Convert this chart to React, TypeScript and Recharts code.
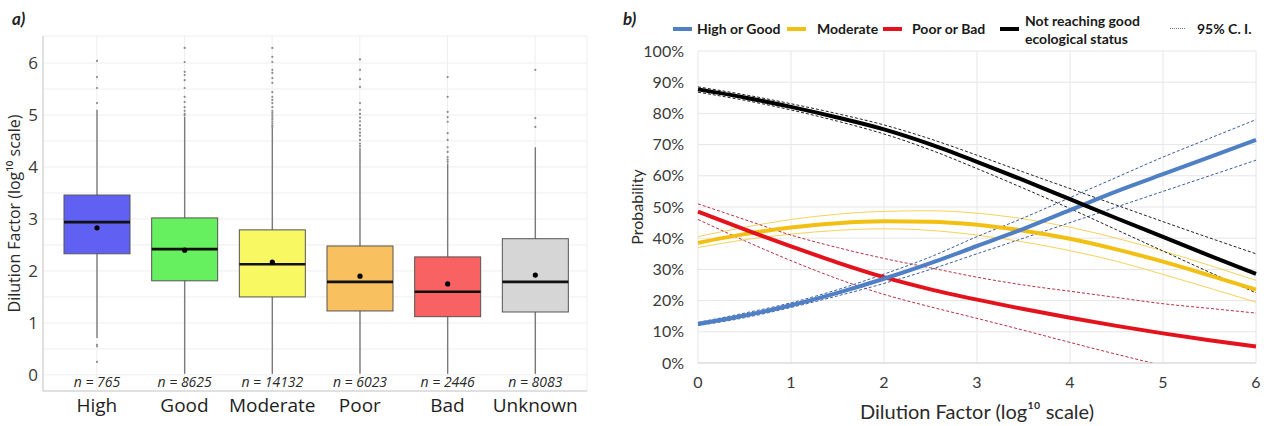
import React from 'react';
import {
  ComposedChart,
  Bar,
  XAxis,
  YAxis,
  CartesianGrid,
  LineChart,
  Line,
  Legend,
} from 'recharts';

// ---------- Panel a) box plot data ----------
const categories = ['High', 'Good', 'Moderate', 'Poor', 'Bad', 'Unknown'];
const counts = [765, 8625, 14132, 6023, 2446, 8083];
const whiskerLow = [0.71, 0.02, 0.02, 0.02, 0.02, 0.02];
const q1 = [2.33, 1.81, 1.5, 1.23, 1.12, 1.21];
const medians = [2.94, 2.42, 2.13, 1.79, 1.6, 1.79];
const q3 = [3.46, 3.02, 2.79, 2.48, 2.27, 2.62];
const whiskerHigh = [5.1, 4.96, 4.75, 4.37, 4.07, 4.38];
const means = [2.83, 2.4, 2.17, 1.9, 1.75, 1.92];
const outliers = [
  [6.04, 5.73, 5.52, 5.23, 0.58, 0.55, 0.25],
  [6.29, 6.02, 5.83, 5.77, 5.67, 5.52, 5.35, 5.25, 5.15, 5.08, 5.02, 4.99],
  [6.29, 6.12, 6.02, 5.87, 5.81, 5.71, 5.62, 5.44, 5.35, 5.29, 5.23, 5.15, 5.08, 5.04, 5.0, 4.96, 4.92, 4.88, 4.84, 4.8, 4.77],
  [6.07, 5.87, 5.69, 5.54, 5.23, 5.1, 5.02, 4.95, 4.88, 4.8, 4.73, 4.66, 4.6, 4.52, 4.45, 4.4],
  [5.73, 5.35, 5.06, 4.96, 4.87, 4.65, 4.52, 4.38, 4.29, 4.19, 4.14, 4.1],
  [5.87, 4.94, 4.77],
];
const boxColors = ['#6060f2', '#66ef5f', '#f8f862', '#f9c060', '#f96262', '#d6d6d6'];
const leftYGridTicks = [0, 0.5, 1, 1.5, 2, 2.5, 3, 3.5, 4, 4.5, 5, 5.5, 6];

const boxData = categories.map((cat, i) => ({
  cat,
  n: counts[i],
  wLow: whiskerLow[i],
  q1: q1[i],
  med: medians[i],
  q3: q3[i],
  wHigh: whiskerHigh[i],
  mean: means[i],
  out: outliers[i],
  color: boxColors[i],
}));

// ---------- Panel b) probability curves ----------
const xs = [0, 0.5, 1, 1.5, 2, 2.5, 3, 3.5, 4, 4.5, 5, 5.5, 6];
const highGood = [12.5, 15.2, 18.5, 22.5, 27, 32, 37.5, 43, 49, 55, 60.5, 66, 71.5];
const highGoodHi = [13, 16, 19.3, 23.5, 28.5, 34, 40.5, 46.5, 53, 59.5, 66, 72, 78];
const highGoodLo = [12, 14.5, 17.8, 21.5, 25.5, 30, 35, 40, 45, 50, 55, 60, 65];
const moderate = [38.5, 41.3, 43.4, 44.8, 45.4, 45.3, 44.3, 42.4, 39.8, 36.4, 32.5, 28.1, 23.5];
const moderateHi = [40.5, 43.5, 46, 47.7, 48.6, 48.8, 48.0, 46.2, 43.5, 40.0, 35.9, 31.3, 26.5];
const moderateLo = [37, 39.5, 41.3, 42.5, 43, 42.5, 41.0, 38.8, 36.0, 32.6, 28.4, 24, 19.5];
const poorBad = [48.5, 42.8, 37.4, 32.2, 27.5, 23.6, 20.3, 17.3, 14.5, 11.9, 9.5, 7.3, 5.3];
const poorBadHi = [51, 46, 41, 37, 33.5, 30.5, 27.5, 25, 23, 21, 19, 17.5, 16];
const poorBadLo = [46, 39.2, 32.8, 27, 22, 18, 14.3, 10.5, 6.6, 2.8, -0.8, -4, -7];
const notGood = [87.7, 85.1, 82.1, 78.7, 74.9, 70.1, 64.5, 58.6, 52.5, 46.4, 40.4, 34.4, 28.6];
const notGoodHi = [88.5, 86, 83.1, 79.9, 76.3, 71.8, 66.6, 61.2, 55.9, 50.6, 45.3, 40.1, 35];
const notGoodLo = [86.8, 84.2, 81.1, 77.5, 73.4, 68.3, 62.3, 56, 49.5, 42.7, 35.9, 29.1, 22.5];
const rightXTicks = [0, 1, 2, 3, 4, 5, 6];
const rightYTicks = [0, 10, 20, 30, 40, 50, 60, 70, 80, 90, 100];

const curveData = xs.map((x, i) => ({
  x,
  hg: highGood[i],
  hgHi: highGoodHi[i],
  hgLo: highGoodLo[i],
  mod: moderate[i],
  modHi: moderateHi[i],
  modLo: moderateLo[i],
  pb: poorBad[i],
  pbHi: poorBadHi[i],
  pbLo: poorBadLo[i],
  ng: notGood[i],
  ngHi: notGoodHi[i],
  ngLo: notGoodLo[i],
}));

const COL_BLUE = '#4f7fc4';
const COL_YELLOW = '#f2c012';
const COL_RED = '#e3131d';
const COL_BLACK = '#000000';

const legendItems = [
  { label: ['High or Good'], color: COL_BLUE },
  { label: ['Moderate'], color: COL_YELLOW },
  { label: ['Poor or Bad'], color: COL_RED },
  { label: ['Not reaching good', 'ecological status'], color: COL_BLACK },
];

const BoxShape = (props: any) => {
  const { x, y, width, height, payload } = props;
  if (!payload) return null;
  const top = Math.min(y, y + height);
  const bottom = Math.max(y, y + height);
  const lo = payload.wLow;
  const hi = payload.wHigh;
  const py = (v: number) => bottom - ((bottom - top) * (v - lo)) / (hi - lo);
  const cx = x + width / 2;
  return (
    <g>
      <line x1={cx} x2={cx} y1={py(hi)} y2={py(lo)} stroke="#7a7a7a" strokeWidth={1.4} />
      {payload.out.map((v: number, k: number) => (
        <circle key={k} cx={cx} cy={py(v)} r={1.1} fill="#8a8a8a" />
      ))}
      <rect
        x={x}
        y={py(payload.q3)}
        width={width}
        height={py(payload.q1) - py(payload.q3)}
        fill={payload.color}
        stroke="#555"
        strokeWidth={1}
      />
      <line x1={x} x2={x + width} y1={py(payload.med)} y2={py(payload.med)} stroke="#111" strokeWidth={2.6} />
      <circle cx={cx} cy={py(payload.mean)} r={2.6} fill="#000" />
      <text
        x={cx}
        y={py(-0.13)}
        textAnchor="middle"
        dominantBaseline="central"
        fontStyle="italic"
        fontSize={14}
        fill="#2a2a2a"
        fontFamily="Open Sans"
      >
        {`n = ${payload.n}`}
      </text>
    </g>
  );
};

const renderLegend = () => (
  <div
    style={{
      position: 'relative',
      height: 34,
      width: 644,
      fontFamily: 'Lato',
      fontWeight: 700,
      fontSize: 14,
      color: '#1a1a1a',
    }}
  >
    {legendItems.map((it, i) => {
      const lefts = [53, 167, 263, 380];
      const tl = [77, 197, 292, 405];
      return (
        <React.Fragment key={i}>
          <div
            style={{
              position: 'absolute',
              left: lefts[i],
              top: 15,
              width: 19,
              height: 4,
              background: it.color,
            }}
          />
          <div
            style={{
              position: 'absolute',
              left: tl[i],
              top: it.label.length > 1 ? 0 : 8,
              lineHeight: '18px',
              whiteSpace: 'nowrap',
            }}
          >
            {it.label.map((l, k) => (
              <div key={k}>{l}</div>
            ))}
          </div>
        </React.Fragment>
      );
    })}
    <div
      style={{
        position: 'absolute',
        left: 550,
        top: 16,
        width: 15,
        height: 0,
        borderTop: '1.5px dotted #777',
      }}
    />
    <div style={{ position: 'absolute', left: 577, top: 8, lineHeight: '18px', whiteSpace: 'nowrap' }}>95% C. I.</div>
  </div>
);

export default function App() {
  return (
    <div style={{ position: 'absolute', left: 0, top: 0, width: 1264, height: 426, background: '#fff' }}>
      <div
        style={{
          position: 'absolute',
          left: 12,
          top: 8,
          fontFamily: 'Lato',
          fontWeight: 700,
          fontStyle: 'italic',
          fontSize: 17,
          color: '#222',
        }}
      >
        a)
      </div>
      <div
        style={{
          position: 'absolute',
          left: 623,
          top: 8,
          fontFamily: 'Lato',
          fontWeight: 700,
          fontStyle: 'italic',
          fontSize: 17,
          color: '#222',
        }}
      >
        b)
      </div>

      {/* Panel a */}
      <div style={{ position: 'absolute', left: 0, top: 0 }}>
        <ComposedChart
          width={600}
          height={426}
          data={boxData}
          margin={{ top: 36, right: 13, bottom: 0, left: 0 }}
          barSize={66}
        >
          <CartesianGrid stroke="#eeeeee" strokeWidth={1} />
          <XAxis
            dataKey="cat"
            tickLine={false}
            tickSize={0}
            tickMargin={8}
            axisLine={{ stroke: '#c9c9c9' }}
            height={35}
            padding={{ left: 10, right: 8 }}
            tick={{ fontSize: 19, fill: '#1e1e1e', fontFamily: 'Open Sans' }}
            interval={0}
          />
          <XAxis
            xAxisId="top"
            orientation="top"
            dataKey="cat"
            tick={false}
            tickLine={false}
            height={0}
            axisLine={{ stroke: '#c9c9c9' }}
          />
          <YAxis
            type="number"
            domain={[-0.31, 6.52]}
            allowDataOverflow
            ticks={leftYGridTicks}
            interval={0}
            tickFormatter={(v: number) => (Number.isInteger(v) ? String(v) : '')}
            width={43}
            tickLine={false}
            tickSize={0}
            tickMargin={5}
            axisLine={{ stroke: '#c9c9c9' }}
            tick={{ fontSize: 17, fill: '#3a3a3a', fontFamily: 'Open Sans' }}
            label={{
              value: 'Dilution Factor (log¹⁰ scale)',
              angle: -90,
              position: 'insideLeft',
              offset: 14,
              style: { textAnchor: 'middle', fontSize: 16, fill: '#2a2a2a', fontFamily: 'Open Sans' },
            }}
          />
          <YAxis
            yAxisId="right"
            orientation="right"
            type="number"
            domain={[-0.31, 6.52]}
            width={0}
            tick={false}
            tickLine={false}
            axisLine={{ stroke: '#c9c9c9' }}
          />
          <Bar
            dataKey={(d: any) => [d.wLow, d.wHigh]}
            shape={BoxShape}
            isAnimationActive={false}
          />
        </ComposedChart>
      </div>

      {/* Panel b */}
      <div style={{ position: 'absolute', left: 620, top: 0 }}>
        <LineChart
          width={644}
          height={426}
          data={curveData}
          margin={{ top: 17, right: 8, bottom: 3, left: 0 }}
        >
          <Legend
            verticalAlign="top"
            align="left"
            content={renderLegend}
            wrapperStyle={{ top: 12, left: 0, width: 644 }}
          />
          <CartesianGrid stroke="#e6e6e6" strokeWidth={1} />
          <XAxis
            dataKey="x"
            type="number"
            domain={[0, 6]}
            ticks={rightXTicks}
            tickLine={false}
            tickSize={0}
            tickMargin={14}
            axisLine={{ stroke: '#d6d6d6' }}
            height={60}
            tick={{ fontSize: 16, fill: '#3a3a3a', fontFamily: 'Lato' }}
            label={{
              value: 'Dilution Factor (log¹⁰ scale)',
              position: 'insideBottom',
              offset: 4,
              style: { fontSize: 20, fill: '#2a2a2a', fontFamily: 'Lato' },
            }}
          />
          <YAxis
            type="number"
            domain={[0, 100]}
            allowDataOverflow
            ticks={rightYTicks}
            tickFormatter={(v: number) => `${v}%`}
            width={78}
            tickLine={false}
            axisLine={false}
            tickSize={0}
            tickMargin={14}
            tick={{ fontSize: 16, fill: '#3a3a3a', fontFamily: 'Lato' }}
            label={{
              value: 'Probability',
              angle: -90,
              position: 'insideLeft',
              offset: 17,
              style: { textAnchor: 'middle', fontSize: 16, fill: '#2a2a2a', fontFamily: 'Lato' },
            }}
          />
          {/* confidence intervals */}
          <Line dataKey="modHi" type="monotone" stroke="#f6d25a" strokeWidth={1} dot={false} isAnimationActive={false} legendType="none" />
          <Line dataKey="modLo" type="monotone" stroke="#f6d25a" strokeWidth={1} dot={false} isAnimationActive={false} legendType="none" />
          <Line dataKey="pbHi" type="monotone" stroke="#b9303e" strokeWidth={1} strokeDasharray="3 2" dot={false} isAnimationActive={false} legendType="none" />
          <Line dataKey="pbLo" type="monotone" stroke="#b9303e" strokeWidth={1} strokeDasharray="3 2" dot={false} isAnimationActive={false} legendType="none" />
          <Line dataKey="hgHi" type="monotone" stroke="#3d5f9e" strokeWidth={1} strokeDasharray="3 2" dot={false} isAnimationActive={false} legendType="none" />
          <Line dataKey="hgLo" type="monotone" stroke="#3d5f9e" strokeWidth={1} strokeDasharray="3 2" dot={false} isAnimationActive={false} legendType="none" />
          <Line dataKey="ngHi" type="monotone" stroke="#222" strokeWidth={1} strokeDasharray="3 2" dot={false} isAnimationActive={false} legendType="none" />
          <Line dataKey="ngLo" type="monotone" stroke="#222" strokeWidth={1} strokeDasharray="3 2" dot={false} isAnimationActive={false} legendType="none" />
          {/* main curves */}
          <Line dataKey="mod" type="monotone" stroke={COL_YELLOW} strokeWidth={4} dot={false} isAnimationActive={false} />
          <Line dataKey="pb" type="monotone" stroke={COL_RED} strokeWidth={4} dot={false} isAnimationActive={false} />
          <Line dataKey="hg" type="monotone" stroke={COL_BLUE} strokeWidth={4} dot={false} isAnimationActive={false} />
          <Line dataKey="ng" type="monotone" stroke={COL_BLACK} strokeWidth={4} dot={false} isAnimationActive={false} />
        </LineChart>
      </div>
    </div>
  );
}
